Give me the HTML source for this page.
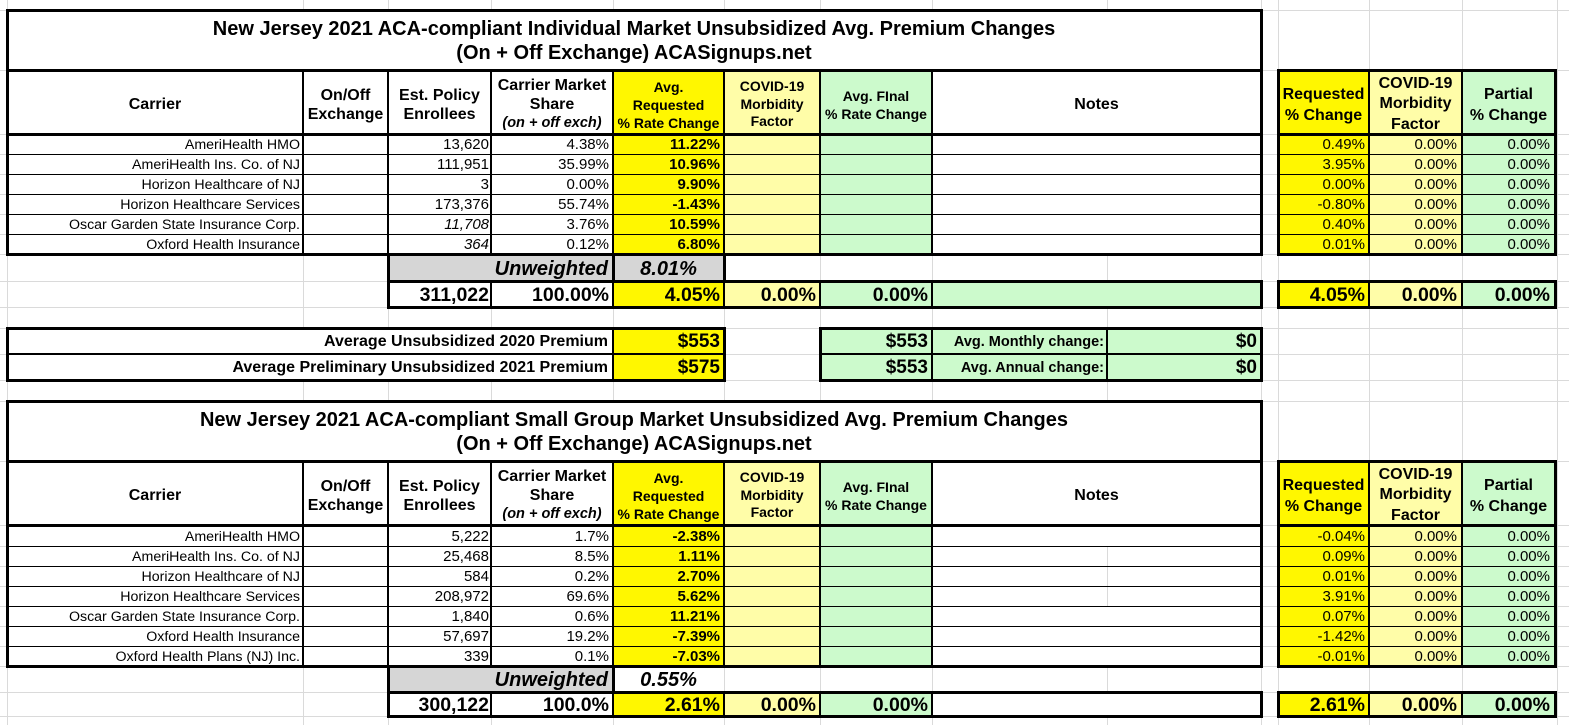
<!DOCTYPE html>
<html><head><meta charset="utf-8">
<style>
body{margin:0;background:#fff}
#p{position:relative;width:1569px;height:725px;overflow:hidden;background:#fff;font-family:"Liberation Sans",Arial,sans-serif;color:#000}
#p div{position:absolute;box-sizing:border-box}
.g{background:#dadada}
.k{background:#000}
.w{background:#fff}
.y{background:#fff700}
.ly{background:#fffda8}
.gr{background:#ccfacc}
.gy{background:#d6d6d6}
.t{display:flex;align-items:center;justify-content:flex-end;white-space:nowrap;font-size:14.2px;line-height:16px;padding-top:1px}
.n{font-size:15px}
.b{font-weight:bold}
.i{font-style:italic}
.p2{padding-right:2px}.p3{padding-right:3px}.p4{padding-right:4px}.p5{padding-right:5px}
.h{display:flex;flex-direction:column;align-items:center;justify-content:center;text-align:center;font-weight:bold;white-space:nowrap;padding-top:5px}
.tt{display:flex;flex-direction:column;align-items:center;justify-content:center;font-weight:bold;font-size:20px;line-height:24px;white-space:nowrap;padding-top:1px}
.tot{font-size:19.5px;font-weight:bold}
.uw{font-size:20px;font-weight:bold;font-style:italic}
</style></head><body><div id="p">

<!-- gridlines vertical -->
<div class="g" style="left:7px;top:0;width:1px;height:725px"></div>
<div class="g" style="left:303px;top:0;width:1px;height:725px"></div>
<div class="g" style="left:388px;top:0;width:1px;height:725px"></div>
<div class="g" style="left:491px;top:0;width:1px;height:725px"></div>
<div class="g" style="left:613px;top:0;width:1px;height:725px"></div>
<div class="g" style="left:724px;top:0;width:1px;height:725px"></div>
<div class="g" style="left:820px;top:0;width:1px;height:725px"></div>
<div class="g" style="left:932px;top:0;width:1px;height:725px"></div>
<div class="g" style="left:1107px;top:0;width:1px;height:725px"></div>
<div class="g" style="left:1261px;top:0;width:1px;height:725px"></div>
<div class="g" style="left:1278px;top:0;width:1px;height:725px"></div>
<div class="g" style="left:1369px;top:0;width:1px;height:725px"></div>
<div class="g" style="left:1462px;top:0;width:1px;height:725px"></div>
<div class="g" style="left:1557px;top:0;width:1px;height:725px"></div>
<!-- gridlines horizontal -->
<div class="g" style="left:0;top:10px;width:1569px;height:1px"></div>
<div class="g" style="left:0;top:70px;width:1569px;height:1px"></div>
<div class="g" style="left:0;top:134px;width:1569px;height:1px"></div>
<div class="g" style="left:0;top:154px;width:1569px;height:1px"></div>
<div class="g" style="left:0;top:174px;width:1569px;height:1px"></div>
<div class="g" style="left:0;top:194px;width:1569px;height:1px"></div>
<div class="g" style="left:0;top:214px;width:1569px;height:1px"></div>
<div class="g" style="left:0;top:234px;width:1569px;height:1px"></div>
<div class="g" style="left:0;top:254px;width:1569px;height:1px"></div>
<div class="g" style="left:0;top:281px;width:1569px;height:1px"></div>
<div class="g" style="left:0;top:307px;width:1569px;height:1px"></div>
<div class="g" style="left:0;top:328px;width:1569px;height:1px"></div>
<div class="g" style="left:0;top:354px;width:1569px;height:1px"></div>
<div class="g" style="left:0;top:380px;width:1569px;height:1px"></div>
<div class="g" style="left:0;top:401px;width:1569px;height:1px"></div>
<div class="g" style="left:0;top:461px;width:1569px;height:1px"></div>
<div class="g" style="left:0;top:525px;width:1569px;height:1px"></div>
<div class="g" style="left:0;top:546px;width:1569px;height:1px"></div>
<div class="g" style="left:0;top:566px;width:1569px;height:1px"></div>
<div class="g" style="left:0;top:586px;width:1569px;height:1px"></div>
<div class="g" style="left:0;top:606px;width:1569px;height:1px"></div>
<div class="g" style="left:0;top:626px;width:1569px;height:1px"></div>
<div class="g" style="left:0;top:646px;width:1569px;height:1px"></div>
<div class="g" style="left:0;top:666px;width:1569px;height:1px"></div>
<div class="g" style="left:0;top:692px;width:1569px;height:1px"></div>
<div class="g" style="left:0;top:716px;width:1569px;height:1px"></div>

<!-- ===== SECTION 1 FILLS ===== -->
<div class="w" style="left:7px;top:10px;width:1254px;height:60px"></div>
<div class="w" style="left:7px;top:70px;width:1254px;height:184px"></div>
<div class="y" style="left:613px;top:70px;width:111px;height:184px"></div>
<div class="ly" style="left:724px;top:70px;width:96px;height:184px"></div>
<div class="gr" style="left:820px;top:70px;width:112px;height:184px"></div>
<div class="gy" style="left:388px;top:254px;width:336px;height:27px"></div>
<div class="w" style="left:388px;top:281px;width:225px;height:26px"></div>
<div class="y" style="left:613px;top:281px;width:111px;height:26px"></div>
<div class="ly" style="left:724px;top:281px;width:96px;height:26px"></div>
<div class="gr" style="left:820px;top:281px;width:441px;height:26px"></div>
<div class="y" style="left:1278px;top:70px;width:91px;height:184px"></div>
<div class="ly" style="left:1369px;top:70px;width:93px;height:184px"></div>
<div class="gr" style="left:1462px;top:70px;width:93px;height:184px"></div>
<div class="y" style="left:1278px;top:281px;width:91px;height:26px"></div>
<div class="ly" style="left:1369px;top:281px;width:93px;height:26px"></div>
<div class="gr" style="left:1462px;top:281px;width:93px;height:26px"></div>
<div class="w" style="left:7px;top:328px;width:606px;height:52px"></div>
<div class="y" style="left:613px;top:328px;width:111px;height:52px"></div>
<div class="gr" style="left:820px;top:328px;width:441px;height:52px"></div>

<!-- ===== SECTION 2 FILLS ===== -->
<div class="w" style="left:7px;top:401px;width:1254px;height:60px"></div>
<div class="w" style="left:7px;top:461px;width:1254px;height:205px"></div>
<div class="y" style="left:613px;top:461px;width:111px;height:205px"></div>
<div class="ly" style="left:724px;top:461px;width:96px;height:205px"></div>
<div class="gr" style="left:820px;top:461px;width:112px;height:205px"></div>
<div class="gy" style="left:388px;top:666px;width:225px;height:26px"></div>
<div class="w" style="left:388px;top:692px;width:873px;height:24px"></div>
<div class="y" style="left:613px;top:692px;width:111px;height:24px"></div>
<div class="ly" style="left:724px;top:692px;width:96px;height:24px"></div>
<div class="gr" style="left:820px;top:692px;width:112px;height:24px"></div>
<div class="y" style="left:1278px;top:461px;width:91px;height:205px"></div>
<div class="ly" style="left:1369px;top:461px;width:93px;height:205px"></div>
<div class="gr" style="left:1462px;top:461px;width:93px;height:205px"></div>
<div class="y" style="left:1278px;top:692px;width:91px;height:24px"></div>
<div class="ly" style="left:1369px;top:692px;width:93px;height:24px"></div>
<div class="gr" style="left:1462px;top:692px;width:93px;height:24px"></div>
<div class="g" style="left:1107px;top:546px;width:1px;height:60px"></div>

<!-- ===== SECTION 1 LINES ===== -->
<div class="k" style="left:6px;top:9px;width:1257px;height:3px"></div>
<div class="k" style="left:6px;top:9px;width:3px;height:247px"></div>
<div class="k" style="left:1260px;top:9px;width:3px;height:247px"></div>
<div class="k" style="left:6px;top:69px;width:1257px;height:3px"></div>
<div class="k" style="left:6px;top:133px;width:1257px;height:3px"></div>
<div class="k" style="left:6px;top:253px;width:1257px;height:3px"></div>
<div class="k" style="left:302px;top:70px;width:2px;height:184px"></div>
<div class="k" style="left:387px;top:70px;width:2px;height:184px"></div>
<div class="k" style="left:490px;top:70px;width:2px;height:184px"></div>
<div class="k" style="left:612px;top:70px;width:2px;height:184px"></div>
<div class="k" style="left:723px;top:70px;width:2px;height:184px"></div>
<div class="k" style="left:819px;top:70px;width:2px;height:184px"></div>
<div class="k" style="left:931px;top:70px;width:2px;height:184px"></div>
<div class="k" style="left:7px;top:154px;width:1254px;height:1px"></div>
<div class="k" style="left:7px;top:174px;width:1254px;height:1px"></div>
<div class="k" style="left:7px;top:194px;width:1254px;height:1px"></div>
<div class="k" style="left:7px;top:214px;width:1254px;height:1px"></div>
<div class="k" style="left:7px;top:234px;width:1254px;height:1px"></div>
<!-- unweighted -->
<div class="k" style="left:387px;top:253px;width:3px;height:55px"></div>
<div class="k" style="left:612px;top:254px;width:3px;height:27px"></div>
<div class="k" style="left:723px;top:254px;width:3px;height:27px"></div>
<!-- totals -->
<div class="k" style="left:387px;top:280px;width:876px;height:3px"></div>
<div class="k" style="left:387px;top:306px;width:876px;height:3px"></div>
<div class="k" style="left:1260px;top:280px;width:3px;height:29px"></div>
<div class="k" style="left:490px;top:281px;width:2px;height:26px"></div>
<div class="k" style="left:612px;top:281px;width:2px;height:26px"></div>
<div class="k" style="left:723px;top:281px;width:2px;height:26px"></div>
<div class="k" style="left:819px;top:281px;width:2px;height:26px"></div>
<div class="k" style="left:931px;top:281px;width:2px;height:26px"></div>
<!-- right table -->
<div class="k" style="left:1277px;top:69px;width:280px;height:3px"></div>
<div class="k" style="left:1277px;top:133px;width:280px;height:3px"></div>
<div class="k" style="left:1277px;top:253px;width:280px;height:3px"></div>
<div class="k" style="left:1277px;top:69px;width:3px;height:187px"></div>
<div class="k" style="left:1554px;top:69px;width:3px;height:187px"></div>
<div class="k" style="left:1368px;top:70px;width:2px;height:184px"></div>
<div class="k" style="left:1461px;top:70px;width:2px;height:184px"></div>
<div class="k" style="left:1278px;top:154px;width:277px;height:1px"></div>
<div class="k" style="left:1278px;top:174px;width:277px;height:1px"></div>
<div class="k" style="left:1278px;top:194px;width:277px;height:1px"></div>
<div class="k" style="left:1278px;top:214px;width:277px;height:1px"></div>
<div class="k" style="left:1278px;top:234px;width:277px;height:1px"></div>
<div class="k" style="left:1277px;top:280px;width:280px;height:3px"></div>
<div class="k" style="left:1277px;top:306px;width:280px;height:3px"></div>
<div class="k" style="left:1277px;top:280px;width:3px;height:29px"></div>
<div class="k" style="left:1554px;top:280px;width:3px;height:29px"></div>
<div class="k" style="left:1368px;top:281px;width:2px;height:26px"></div>
<div class="k" style="left:1461px;top:281px;width:2px;height:26px"></div>
<!-- premium box -->
<div class="k" style="left:6px;top:327px;width:720px;height:3px"></div>
<div class="k" style="left:6px;top:379px;width:720px;height:3px"></div>
<div class="k" style="left:6px;top:327px;width:3px;height:55px"></div>
<div class="k" style="left:723px;top:327px;width:3px;height:55px"></div>
<div class="k" style="left:7px;top:353px;width:717px;height:2px"></div>
<div class="k" style="left:612px;top:328px;width:2px;height:52px"></div>
<div class="k" style="left:819px;top:327px;width:444px;height:3px"></div>
<div class="k" style="left:819px;top:379px;width:444px;height:3px"></div>
<div class="k" style="left:819px;top:327px;width:3px;height:55px"></div>
<div class="k" style="left:1260px;top:327px;width:3px;height:55px"></div>
<div class="k" style="left:820px;top:353px;width:441px;height:2px"></div>
<div class="k" style="left:931px;top:328px;width:2px;height:52px"></div>
<div class="k" style="left:1106px;top:328px;width:2px;height:52px"></div>

<!-- ===== SECTION 2 LINES ===== -->
<div class="k" style="left:6px;top:400px;width:1257px;height:3px"></div>
<div class="k" style="left:6px;top:400px;width:3px;height:267px"></div>
<div class="k" style="left:1260px;top:400px;width:3px;height:267px"></div>
<div class="k" style="left:6px;top:460px;width:1257px;height:3px"></div>
<div class="k" style="left:6px;top:524px;width:1257px;height:3px"></div>
<div class="k" style="left:6px;top:665px;width:1257px;height:3px"></div>
<div class="k" style="left:302px;top:461px;width:2px;height:205px"></div>
<div class="k" style="left:387px;top:461px;width:2px;height:205px"></div>
<div class="k" style="left:490px;top:461px;width:2px;height:205px"></div>
<div class="k" style="left:612px;top:461px;width:2px;height:205px"></div>
<div class="k" style="left:723px;top:461px;width:2px;height:205px"></div>
<div class="k" style="left:819px;top:461px;width:2px;height:205px"></div>
<div class="k" style="left:931px;top:461px;width:2px;height:205px"></div>
<div class="k" style="left:7px;top:546px;width:1254px;height:1px"></div>
<div class="k" style="left:7px;top:566px;width:1254px;height:1px"></div>
<div class="k" style="left:7px;top:586px;width:1254px;height:1px"></div>
<div class="k" style="left:7px;top:606px;width:1254px;height:1px"></div>
<div class="k" style="left:7px;top:626px;width:1254px;height:1px"></div>
<div class="k" style="left:7px;top:646px;width:1254px;height:1px"></div>
<div class="k" style="left:387px;top:665px;width:3px;height:52px"></div>
<div class="k" style="left:612px;top:666px;width:3px;height:26px"></div>
<div class="k" style="left:387px;top:691px;width:876px;height:3px"></div>
<div class="k" style="left:387px;top:715px;width:876px;height:3px"></div>
<div class="k" style="left:1260px;top:691px;width:3px;height:27px"></div>
<div class="k" style="left:490px;top:692px;width:2px;height:24px"></div>
<div class="k" style="left:612px;top:692px;width:2px;height:24px"></div>
<div class="k" style="left:723px;top:692px;width:2px;height:24px"></div>
<div class="k" style="left:819px;top:692px;width:2px;height:24px"></div>
<div class="k" style="left:931px;top:692px;width:2px;height:24px"></div>
<div class="k" style="left:1277px;top:460px;width:280px;height:3px"></div>
<div class="k" style="left:1277px;top:524px;width:280px;height:3px"></div>
<div class="k" style="left:1277px;top:665px;width:280px;height:3px"></div>
<div class="k" style="left:1277px;top:460px;width:3px;height:208px"></div>
<div class="k" style="left:1554px;top:460px;width:3px;height:208px"></div>
<div class="k" style="left:1368px;top:461px;width:2px;height:205px"></div>
<div class="k" style="left:1461px;top:461px;width:2px;height:205px"></div>
<div class="k" style="left:1278px;top:546px;width:277px;height:1px"></div>
<div class="k" style="left:1278px;top:566px;width:277px;height:1px"></div>
<div class="k" style="left:1278px;top:586px;width:277px;height:1px"></div>
<div class="k" style="left:1278px;top:606px;width:277px;height:1px"></div>
<div class="k" style="left:1278px;top:626px;width:277px;height:1px"></div>
<div class="k" style="left:1278px;top:646px;width:277px;height:1px"></div>
<div class="k" style="left:1277px;top:691px;width:280px;height:3px"></div>
<div class="k" style="left:1277px;top:715px;width:280px;height:3px"></div>
<div class="k" style="left:1277px;top:691px;width:3px;height:27px"></div>
<div class="k" style="left:1554px;top:691px;width:3px;height:27px"></div>
<div class="k" style="left:1368px;top:692px;width:2px;height:24px"></div>
<div class="k" style="left:1461px;top:692px;width:2px;height:24px"></div>

<!-- ===== SECTION 1 TEXT ===== -->
<div class="tt" style="left:7px;top:10px;width:1254px;height:60px"><span>New Jersey 2021 ACA-compliant Individual Market Unsubsidized Avg. Premium Changes</span><span>(On + Off Exchange) ACASignups.net</span></div>

<div class="h" style="left:7px;top:70px;width:296px;height:64px;font-size:16px">Carrier</div>
<div class="h" style="left:303px;top:70px;width:85px;height:64px;font-size:16px;line-height:19px"><span>On/Off</span><span>Exchange</span></div>
<div class="h" style="left:388px;top:70px;width:103px;height:64px;font-size:16px;line-height:19px"><span>Est. Policy</span><span>Enrollees</span></div>
<div class="h" style="left:491px;top:70px;width:122px;height:64px;font-size:16px;line-height:19px"><span>Carrier Market</span><span>Share</span><span style="font-size:14.5px;font-style:italic">(on + off exch)</span></div>
<div class="h" style="left:613px;top:70px;width:111px;height:64px;font-size:14px;line-height:18px"><span>Avg.</span><span>Requested</span><span>% Rate Change</span></div>
<div class="h" style="left:724px;top:70px;width:96px;height:64px;font-size:14px;line-height:17.5px"><span>COVID-19</span><span>Morbidity</span><span>Factor</span></div>
<div class="h" style="left:820px;top:70px;width:112px;height:64px;font-size:14px;line-height:18px"><span>Avg. FInal</span><span>% Rate Change</span></div>
<div class="h" style="left:932px;top:70px;width:329px;height:64px;font-size:16px">Notes</div>
<div class="h" style="left:1278px;top:70px;width:91px;height:64px;font-size:16px;line-height:21px"><span>Requested</span><span>% Change</span></div>
<div class="h" style="left:1369px;top:70px;width:93px;height:64px;font-size:16px;line-height:20.5px"><span>COVID-19</span><span>Morbidity</span><span>Factor</span></div>
<div class="h" style="left:1462px;top:70px;width:93px;height:64px;font-size:16px;line-height:21px"><span>Partial</span><span>% Change</span></div>

<!-- row 1 -->
<div class="t p3" style="left:7px;top:134px;width:296px;height:20px">AmeriHealth HMO</div>
<div class="t n p2" style="left:388px;top:134px;width:103px;height:20px">13,620</div>
<div class="t n p4" style="left:491px;top:134px;width:122px;height:20px">4.38%</div>
<div class="t n p4 b" style="left:613px;top:134px;width:111px;height:20px">11.22%</div>
<div class="t n p4" style="left:1278px;top:134px;width:91px;height:20px">0.49%</div>
<div class="t n p5" style="left:1369px;top:134px;width:93px;height:20px">0.00%</div>
<div class="t n p5" style="left:1462px;top:134px;width:93px;height:20px">0.00%</div>
<!-- row 2 -->
<div class="t p3" style="left:7px;top:154px;width:296px;height:20px">AmeriHealth Ins. Co. of NJ</div>
<div class="t n p2" style="left:388px;top:154px;width:103px;height:20px">111,951</div>
<div class="t n p4" style="left:491px;top:154px;width:122px;height:20px">35.99%</div>
<div class="t n p4 b" style="left:613px;top:154px;width:111px;height:20px">10.96%</div>
<div class="t n p4" style="left:1278px;top:154px;width:91px;height:20px">3.95%</div>
<div class="t n p5" style="left:1369px;top:154px;width:93px;height:20px">0.00%</div>
<div class="t n p5" style="left:1462px;top:154px;width:93px;height:20px">0.00%</div>
<!-- row 3 -->
<div class="t p3" style="left:7px;top:174px;width:296px;height:20px">Horizon Healthcare of NJ</div>
<div class="t n p2" style="left:388px;top:174px;width:103px;height:20px">3</div>
<div class="t n p4" style="left:491px;top:174px;width:122px;height:20px">0.00%</div>
<div class="t n p4 b" style="left:613px;top:174px;width:111px;height:20px">9.90%</div>
<div class="t n p4" style="left:1278px;top:174px;width:91px;height:20px">0.00%</div>
<div class="t n p5" style="left:1369px;top:174px;width:93px;height:20px">0.00%</div>
<div class="t n p5" style="left:1462px;top:174px;width:93px;height:20px">0.00%</div>
<!-- row 4 -->
<div class="t p3" style="left:7px;top:194px;width:296px;height:20px">Horizon Healthcare Services</div>
<div class="t n p2" style="left:388px;top:194px;width:103px;height:20px">173,376</div>
<div class="t n p4" style="left:491px;top:194px;width:122px;height:20px">55.74%</div>
<div class="t n p4 b" style="left:613px;top:194px;width:111px;height:20px">-1.43%</div>
<div class="t n p4" style="left:1278px;top:194px;width:91px;height:20px">-0.80%</div>
<div class="t n p5" style="left:1369px;top:194px;width:93px;height:20px">0.00%</div>
<div class="t n p5" style="left:1462px;top:194px;width:93px;height:20px">0.00%</div>
<!-- row 5 -->
<div class="t p3" style="left:7px;top:214px;width:296px;height:20px">Oscar Garden State Insurance Corp.</div>
<div class="t n p2 i" style="left:388px;top:214px;width:103px;height:20px">11,708</div>
<div class="t n p4" style="left:491px;top:214px;width:122px;height:20px">3.76%</div>
<div class="t n p4 b" style="left:613px;top:214px;width:111px;height:20px">10.59%</div>
<div class="t n p4" style="left:1278px;top:214px;width:91px;height:20px">0.40%</div>
<div class="t n p5" style="left:1369px;top:214px;width:93px;height:20px">0.00%</div>
<div class="t n p5" style="left:1462px;top:214px;width:93px;height:20px">0.00%</div>
<!-- row 6 -->
<div class="t p3" style="left:7px;top:234px;width:296px;height:20px">Oxford Health Insurance</div>
<div class="t n p2 i" style="left:388px;top:234px;width:103px;height:20px">364</div>
<div class="t n p4" style="left:491px;top:234px;width:122px;height:20px">0.12%</div>
<div class="t n p4 b" style="left:613px;top:234px;width:111px;height:20px">6.80%</div>
<div class="t n p4" style="left:1278px;top:234px;width:91px;height:20px">0.01%</div>
<div class="t n p5" style="left:1369px;top:234px;width:93px;height:20px">0.00%</div>
<div class="t n p5" style="left:1462px;top:234px;width:93px;height:20px">0.00%</div>

<!-- unweighted -->
<div class="t uw p5" style="left:388px;top:255px;width:225px;height:26px">Unweighted</div>
<div class="t uw" style="left:613px;top:255px;width:111px;height:26px;justify-content:center">8.01%</div>
<!-- totals -->
<div class="t tot p2" style="left:388px;top:282px;width:103px;height:25px">311,022</div>
<div class="t tot p4" style="left:491px;top:282px;width:122px;height:25px">100.00%</div>
<div class="t tot p4" style="left:613px;top:282px;width:111px;height:25px">4.05%</div>
<div class="t tot p4" style="left:724px;top:282px;width:96px;height:25px">0.00%</div>
<div class="t tot p4" style="left:820px;top:282px;width:112px;height:25px">0.00%</div>
<div class="t tot p4" style="left:1278px;top:282px;width:91px;height:25px">4.05%</div>
<div class="t tot p5" style="left:1369px;top:282px;width:93px;height:25px">0.00%</div>
<div class="t tot p5" style="left:1462px;top:282px;width:93px;height:25px">0.00%</div>

<!-- premium -->
<div class="t b p5" style="left:7px;top:329px;width:606px;height:25px;font-size:16px">Average Unsubsidized 2020 Premium</div>
<div class="t b p5" style="left:7px;top:355px;width:606px;height:25px;font-size:16px">Average Preliminary Unsubsidized 2021 Premium</div>
<div class="t tot p4" style="left:613px;top:329px;width:111px;height:25px;font-size:19px">$553</div>
<div class="t tot p4" style="left:613px;top:355px;width:111px;height:25px;font-size:19px">$575</div>
<div class="t tot p4" style="left:820px;top:329px;width:112px;height:25px;font-size:19px">$553</div>
<div class="t tot p4" style="left:820px;top:355px;width:112px;height:25px;font-size:19px">$553</div>
<div class="t b p3" style="left:932px;top:329px;width:175px;height:25px;font-size:14.5px">Avg. Monthly change:</div>
<div class="t b p3" style="left:932px;top:355px;width:175px;height:25px;font-size:14.5px">Avg. Annual change:</div>
<div class="t tot p4" style="left:1107px;top:329px;width:154px;height:25px;font-size:19px">$0</div>
<div class="t tot p4" style="left:1107px;top:355px;width:154px;height:25px;font-size:19px">$0</div>

<!-- ===== SECTION 2 TEXT ===== -->
<div class="tt" style="left:7px;top:401px;width:1254px;height:60px"><span>New Jersey 2021 ACA-compliant Small Group Market Unsubsidized Avg. Premium Changes</span><span>(On + Off Exchange) ACASignups.net</span></div>

<div class="h" style="left:7px;top:461px;width:296px;height:64px;font-size:16px">Carrier</div>
<div class="h" style="left:303px;top:461px;width:85px;height:64px;font-size:16px;line-height:19px"><span>On/Off</span><span>Exchange</span></div>
<div class="h" style="left:388px;top:461px;width:103px;height:64px;font-size:16px;line-height:19px"><span>Est. Policy</span><span>Enrollees</span></div>
<div class="h" style="left:491px;top:461px;width:122px;height:64px;font-size:16px;line-height:19px"><span>Carrier Market</span><span>Share</span><span style="font-size:14.5px;font-style:italic">(on + off exch)</span></div>
<div class="h" style="left:613px;top:461px;width:111px;height:64px;font-size:14px;line-height:18px"><span>Avg.</span><span>Requested</span><span>% Rate Change</span></div>
<div class="h" style="left:724px;top:461px;width:96px;height:64px;font-size:14px;line-height:17.5px"><span>COVID-19</span><span>Morbidity</span><span>Factor</span></div>
<div class="h" style="left:820px;top:461px;width:112px;height:64px;font-size:14px;line-height:18px"><span>Avg. FInal</span><span>% Rate Change</span></div>
<div class="h" style="left:932px;top:461px;width:329px;height:64px;font-size:16px">Notes</div>
<div class="h" style="left:1278px;top:461px;width:91px;height:64px;font-size:16px;line-height:21px"><span>Requested</span><span>% Change</span></div>
<div class="h" style="left:1369px;top:461px;width:93px;height:64px;font-size:16px;line-height:20.5px"><span>COVID-19</span><span>Morbidity</span><span>Factor</span></div>
<div class="h" style="left:1462px;top:461px;width:93px;height:64px;font-size:16px;line-height:21px"><span>Partial</span><span>% Change</span></div>

<!-- s2 row 1 -->
<div class="t p3" style="left:7px;top:526px;width:296px;height:20px">AmeriHealth HMO</div>
<div class="t n p2" style="left:388px;top:526px;width:103px;height:20px">5,222</div>
<div class="t n p4" style="left:491px;top:526px;width:122px;height:20px">1.7%</div>
<div class="t n p4 b" style="left:613px;top:526px;width:111px;height:20px">-2.38%</div>
<div class="t n p4" style="left:1278px;top:526px;width:91px;height:20px">-0.04%</div>
<div class="t n p5" style="left:1369px;top:526px;width:93px;height:20px">0.00%</div>
<div class="t n p5" style="left:1462px;top:526px;width:93px;height:20px">0.00%</div>
<!-- s2 row 2 -->
<div class="t p3" style="left:7px;top:546px;width:296px;height:20px">AmeriHealth Ins. Co. of NJ</div>
<div class="t n p2" style="left:388px;top:546px;width:103px;height:20px">25,468</div>
<div class="t n p4" style="left:491px;top:546px;width:122px;height:20px">8.5%</div>
<div class="t n p4 b" style="left:613px;top:546px;width:111px;height:20px">1.11%</div>
<div class="t n p4" style="left:1278px;top:546px;width:91px;height:20px">0.09%</div>
<div class="t n p5" style="left:1369px;top:546px;width:93px;height:20px">0.00%</div>
<div class="t n p5" style="left:1462px;top:546px;width:93px;height:20px">0.00%</div>
<!-- s2 row 3 -->
<div class="t p3" style="left:7px;top:566px;width:296px;height:20px">Horizon Healthcare of NJ</div>
<div class="t n p2" style="left:388px;top:566px;width:103px;height:20px">584</div>
<div class="t n p4" style="left:491px;top:566px;width:122px;height:20px">0.2%</div>
<div class="t n p4 b" style="left:613px;top:566px;width:111px;height:20px">2.70%</div>
<div class="t n p4" style="left:1278px;top:566px;width:91px;height:20px">0.01%</div>
<div class="t n p5" style="left:1369px;top:566px;width:93px;height:20px">0.00%</div>
<div class="t n p5" style="left:1462px;top:566px;width:93px;height:20px">0.00%</div>
<!-- s2 row 4 -->
<div class="t p3" style="left:7px;top:586px;width:296px;height:20px">Horizon Healthcare Services</div>
<div class="t n p2" style="left:388px;top:586px;width:103px;height:20px">208,972</div>
<div class="t n p4" style="left:491px;top:586px;width:122px;height:20px">69.6%</div>
<div class="t n p4 b" style="left:613px;top:586px;width:111px;height:20px">5.62%</div>
<div class="t n p4" style="left:1278px;top:586px;width:91px;height:20px">3.91%</div>
<div class="t n p5" style="left:1369px;top:586px;width:93px;height:20px">0.00%</div>
<div class="t n p5" style="left:1462px;top:586px;width:93px;height:20px">0.00%</div>
<!-- s2 row 5 -->
<div class="t p3" style="left:7px;top:606px;width:296px;height:20px">Oscar Garden State Insurance Corp.</div>
<div class="t n p2" style="left:388px;top:606px;width:103px;height:20px">1,840</div>
<div class="t n p4" style="left:491px;top:606px;width:122px;height:20px">0.6%</div>
<div class="t n p4 b" style="left:613px;top:606px;width:111px;height:20px">11.21%</div>
<div class="t n p4" style="left:1278px;top:606px;width:91px;height:20px">0.07%</div>
<div class="t n p5" style="left:1369px;top:606px;width:93px;height:20px">0.00%</div>
<div class="t n p5" style="left:1462px;top:606px;width:93px;height:20px">0.00%</div>
<!-- s2 row 6 -->
<div class="t p3" style="left:7px;top:626px;width:296px;height:20px">Oxford Health Insurance</div>
<div class="t n p2" style="left:388px;top:626px;width:103px;height:20px">57,697</div>
<div class="t n p4" style="left:491px;top:626px;width:122px;height:20px">19.2%</div>
<div class="t n p4 b" style="left:613px;top:626px;width:111px;height:20px">-7.39%</div>
<div class="t n p4" style="left:1278px;top:626px;width:91px;height:20px">-1.42%</div>
<div class="t n p5" style="left:1369px;top:626px;width:93px;height:20px">0.00%</div>
<div class="t n p5" style="left:1462px;top:626px;width:93px;height:20px">0.00%</div>
<!-- s2 row 7 -->
<div class="t p3" style="left:7px;top:646px;width:296px;height:20px">Oxford Health Plans (NJ) Inc.</div>
<div class="t n p2" style="left:388px;top:646px;width:103px;height:20px">339</div>
<div class="t n p4" style="left:491px;top:646px;width:122px;height:20px">0.1%</div>
<div class="t n p4 b" style="left:613px;top:646px;width:111px;height:20px">-7.03%</div>
<div class="t n p4" style="left:1278px;top:646px;width:91px;height:20px">-0.01%</div>
<div class="t n p5" style="left:1369px;top:646px;width:93px;height:20px">0.00%</div>
<div class="t n p5" style="left:1462px;top:646px;width:93px;height:20px">0.00%</div>

<!-- s2 unweighted -->
<div class="t uw p5" style="left:388px;top:667px;width:225px;height:25px">Unweighted</div>
<div class="t uw" style="left:613px;top:667px;width:111px;height:25px;justify-content:center">0.55%</div>
<!-- s2 totals -->
<div class="t tot p2" style="left:388px;top:693px;width:103px;height:23px">300,122</div>
<div class="t tot p4" style="left:491px;top:693px;width:122px;height:23px">100.0%</div>
<div class="t tot p4" style="left:613px;top:693px;width:111px;height:23px">2.61%</div>
<div class="t tot p4" style="left:724px;top:693px;width:96px;height:23px">0.00%</div>
<div class="t tot p4" style="left:820px;top:693px;width:112px;height:23px">0.00%</div>
<div class="t tot p4" style="left:1278px;top:693px;width:91px;height:23px">2.61%</div>
<div class="t tot p5" style="left:1369px;top:693px;width:93px;height:23px">0.00%</div>
<div class="t tot p5" style="left:1462px;top:693px;width:93px;height:23px">0.00%</div>

</div></body></html>
